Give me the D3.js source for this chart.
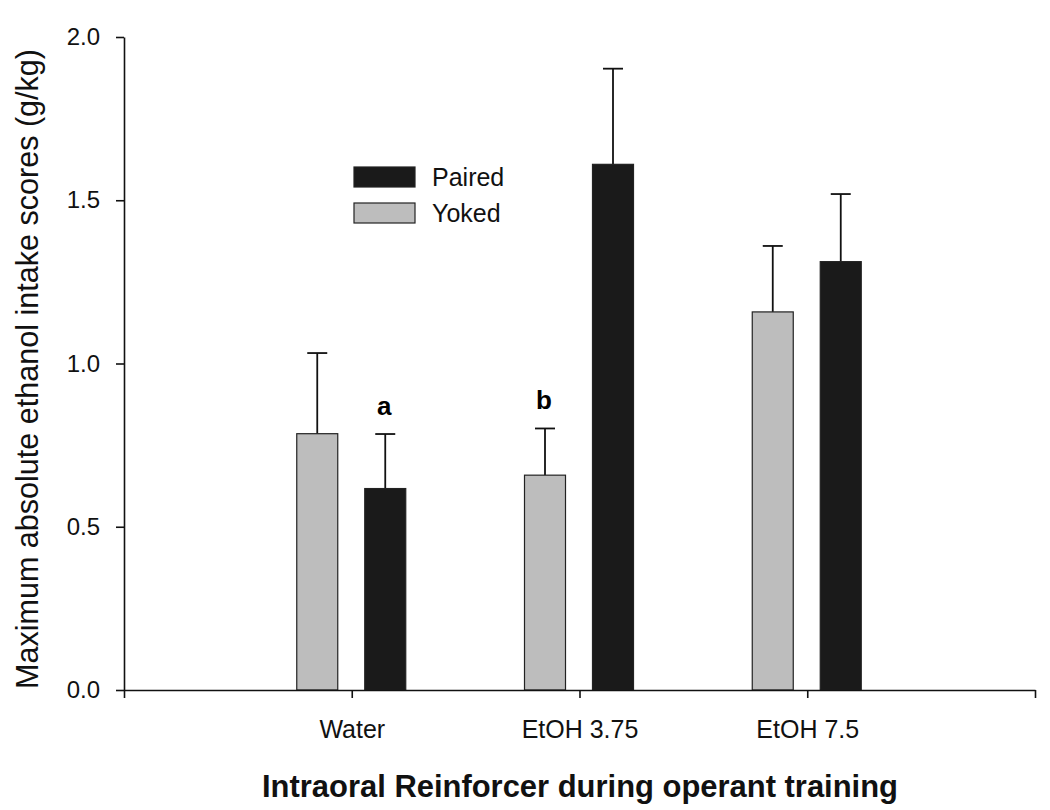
<!DOCTYPE html>
<html>
<head>
<meta charset="utf-8">
<script src="https://cdn.jsdelivr.net/npm/d3@7"></script>
<style>
  html, body { margin: 0; padding: 0; background: #fff; }
  svg { display: block; font-family: "Liberation Sans", Arial, sans-serif; }
</style>
</head>
<body>
<svg id="chart" width="1050" height="810"></svg>
<script>
// ---- data ----
const categories = ["Water", "EtOH 3.75", "EtOH 7.5"];
const seriesNames = ["Yoked", "Paired"];
const yokedMean = [0.785, 0.658, 1.158];
const yokedSem  = [0.247, 0.143, 0.202];
const pairedMean = [0.617, 1.610, 1.312];
const pairedSem  = [0.167, 0.293, 0.207];
const sigLabels = [{cat: 0, series: "Paired", text: "a"}, {cat: 1, series: "Yoked", text: "b"}];
const yTicks = [0, 0.5, 1.0, 1.5, 2.0];
const xTickPositions = [0, 1, 2, 3, 4];

const colors = {Yoked: "#bdbdbd", Paired: "#1a1a1a"};

const svg = d3.select("#chart");
const x = d3.scaleLinear().domain([0, 4]).range([124, 1035]);
const y = d3.scaleLinear().domain([0, 2]).range([690, 37]);
const inner = d3.scaleBand().domain(seriesNames).range([-55, 54]).paddingInner(0.397).paddingOuter(0);

const data = [];
categories.forEach((c, i) => {
  data.push({cat: i, series: "Yoked", v: yokedMean[i], e: yokedSem[i]});
  data.push({cat: i, series: "Paired", v: pairedMean[i], e: pairedSem[i]});
});

// error bars
const capW = 20;
const eb = svg.append("g").attr("stroke", "#111").attr("stroke-width", 1.8);
data.forEach(d => {
  const cx = x(d.cat + 1) + inner(d.series) + inner.bandwidth() / 2;
  eb.append("line").attr("x1", cx).attr("x2", cx).attr("y1", y(d.v)).attr("y2", y(d.v + d.e));
  eb.append("line").attr("x1", cx - capW / 2).attr("x2", cx + capW / 2).attr("y1", y(d.v + d.e)).attr("y2", y(d.v + d.e));
});

// bars
svg.append("g").selectAll("rect").data(data).join("rect")
  .attr("x", d => x(d.cat + 1) + inner(d.series))
  .attr("width", inner.bandwidth())
  .attr("y", d => y(d.v))
  .attr("height", d => y(0) - y(d.v))
  .attr("fill", d => colors[d.series])
  .attr("stroke", "#222")
  .attr("stroke-width", 1.2);

// significance letters
svg.append("g").selectAll("text").data(sigLabels).join("text")
  .attr("x", d => x(d.cat + 1) + inner(d.series) + inner.bandwidth() / 2 - 1)
  .attr("y", d => {
    const arr = d.series === "Yoked" ? [yokedMean, yokedSem] : [pairedMean, pairedSem];
    return y(arr[0][d.cat] + arr[1][d.cat]) - 19;
  })
  .attr("text-anchor", "middle")
  .attr("font-size", 26).attr("font-weight", "bold")
  .text(d => d.text);

// y axis
const yAxis = svg.append("g").attr("transform", "translate(124,0)")
  .call(d3.axisLeft(y).tickValues(yTicks).tickFormat(d3.format(".1f")).tickSize(8).tickSizeOuter(0));
yAxis.select(".domain").attr("stroke", "#111").attr("stroke-width", 1.6);
yAxis.selectAll(".tick line").attr("stroke", "#111").attr("stroke-width", 1.6);
yAxis.selectAll(".tick text").attr("font-size", 24).attr("fill", "#111").attr("x", -24)
  .attr("font-family", "Liberation Sans, Arial, sans-serif");

// x axis
const xAxis = svg.append("g").attr("transform", "translate(0,690)")
  .call(d3.axisBottom(x).tickValues(xTickPositions).tickSize(8).tickSizeOuter(0)
    .tickFormat(d => (d >= 1 && d <= categories.length) ? categories[d - 1] : ""));
xAxis.select(".domain").attr("stroke", "#111").attr("stroke-width", 1.6);
xAxis.selectAll(".tick text").attr("font-size", 25).attr("fill", "#111").attr("y", 0).attr("dy", "48")
  .attr("font-family", "Liberation Sans, Arial, sans-serif");
xAxis.selectAll(".tick line").attr("stroke", "#111").attr("stroke-width", 1.6);

// axis titles
svg.append("text")
  .attr("transform", "translate(38,369) rotate(-90)")
  .attr("text-anchor", "middle")
  .attr("font-size", 32).attr("fill", "#111")
  .attr("textLength", 640).attr("lengthAdjust", "spacingAndGlyphs")
  .text("Maximum absolute ethanol intake scores (g/kg)");

svg.append("text")
  .attr("x", 580).attr("y", 797)
  .attr("text-anchor", "middle")
  .attr("font-size", 32).attr("font-weight", "bold").attr("fill", "#111")
  .attr("textLength", 636).attr("lengthAdjust", "spacingAndGlyphs")
  .text("Intraoral Reinforcer during operant training");

// legend
const legendItems = ["Paired", "Yoked"];
const lg = svg.append("g").attr("transform", "translate(354,167)");
legendItems.forEach((name, i) => {
  const g = lg.append("g").attr("transform", `translate(0,${i * 36})`);
  g.append("rect").attr("width", 61).attr("height", 20)
    .attr("fill", colors[name]).attr("stroke", "#222").attr("stroke-width", 1.2);
  g.append("text").attr("x", 78).attr("y", 10).attr("dy", "0.36em")
    .attr("font-size", 25).attr("fill", "#111").text(name);
});
</script>
</body>
</html>
